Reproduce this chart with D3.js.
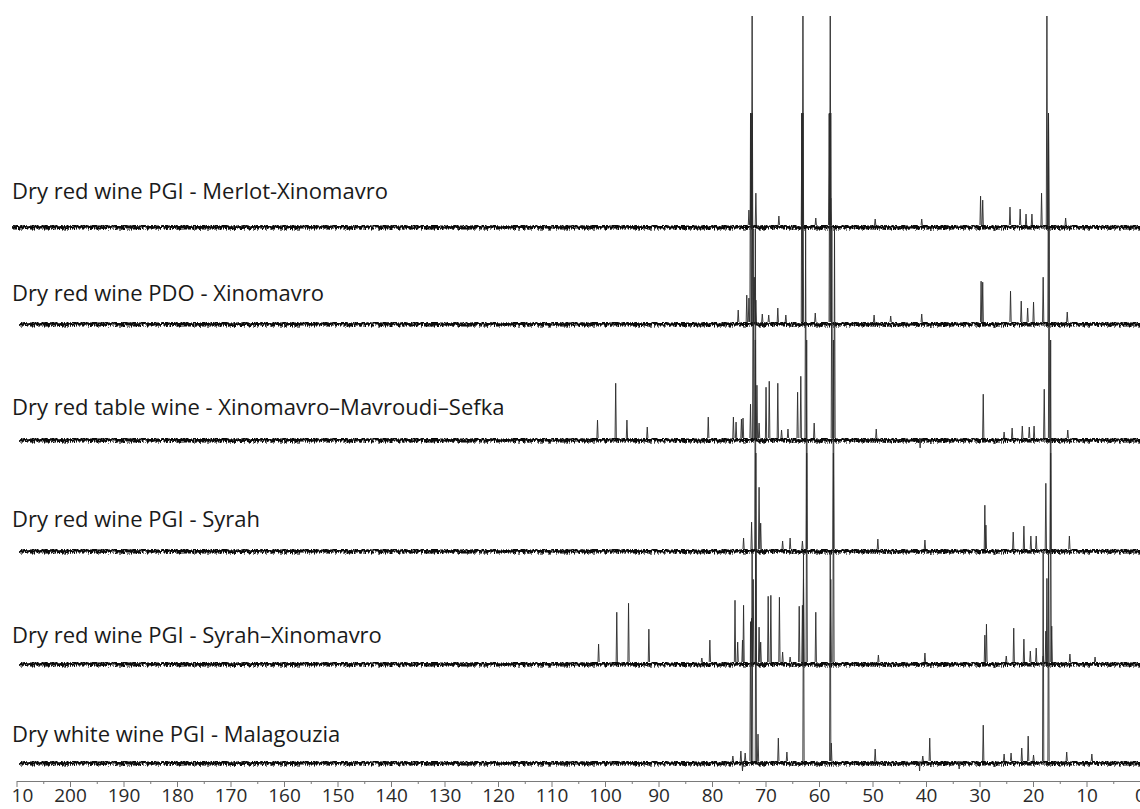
<!DOCTYPE html>
<html lang="en">
<head>
<meta charset="UTF-8">
<title>13C NMR spectra of wines</title>
<script src="https://d3js.org/d3.v7.min.js"></script>
<style>
  body { margin: 0; background: #fff; }
  svg { display: block; }
</style>
</head>
<body>
<script>
// Etykiety widm (od gory)
var labels = [
    "Dry red wine PGI - Merlot-Xinomavro",
    "Dry red wine PDO - Xinomavro",
    "Dry red table wine - Xinomavro\u2013Mavroudi\u2013Sefka",
    "Dry red wine PGI - Syrah",
    "Dry red wine PGI - Syrah\u2013Xinomavro",
    "Dry white wine PGI - Malagouzia"
];

// Piki: [ppm, intensywnosc]; 210 = pik obciety u gory
var merlotXino = [[73.1, 15], [72.7, 112], [72.5, 210], [71.8, 32], [67.5, 9], [63.2, 112], [63.0, 210], [60.6, 7],
    [58.1, 112], [57.9, 210], [57.8, 27], [49.5, 6], [40.8, 6], [29.8, 29], [29.4, 25], [24.3, 18], [22.4, 16],
    [21.3, 11], [20.2, 11], [18.4, 32], [17.4, 210], [17.1, 112], [13.9, 7]];
var pdoXino = [[75.1, 12], [73.5, 27], [73.1, 24], [72.8, 210], [72.5, 210], [72.1, 45], [71.8, 22], [70.6, 8],
    [69.4, 7], [67.7, 14], [66.2, 7], [63.2, 210], [63.0, 210], [60.7, 9], [58.0, 210], [57.8, 210], [49.7, 7],
    [46.6, 6], [40.8, 8], [29.7, 41], [29.4, 40], [24.2, 31], [22.2, 21], [21.0, 14], [19.9, 20], [18.1, 45],
    [17.1, 210], [13.6, 10]];
var tableWine = [[101.4, 18], [98.0, 55], [95.9, 18], [92.1, 11], [80.7, 21], [76.0, 21], [75.5, 16], [74.5, 19],
    [74.2, 20], [72.8, 34], [72.3, 210], [71.9, 210], [71.6, 53], [71.2, 15], [69.9, 51], [69.3, 57], [67.7, 55],
    [67.0, 8], [65.8, 9], [64.0, 46], [63.4, 62], [62.5, 210], [60.9, 15], [57.6, 210], [57.1, 210], [49.3, 9],
    [41.1, -10], [29.3, 44], [25.4, 6], [23.9, 10], [22.0, 12], [20.7, 11], [19.8, 12], [17.9, 49], [17.0, 210],
    [13.5, 8]];
var syrah = [[74.1, 11], [72.6, 27], [71.9, 210], [71.2, 62], [70.9, 26], [66.8, 8], [65.4, 11], [63.1, 8],
    [62.3, 210], [57.3, 210], [49.0, 10], [40.2, 9], [29.0, 44], [28.8, 24], [23.7, 17], [21.7, 23], [20.4, 13],
    [19.4, 13], [17.6, 66], [16.7, 210], [13.2, 13]];
var syrahXino = [[101.2, 18], [97.8, 50], [95.6, 59], [91.8, 33], [81.9, 4], [80.4, 22], [75.7, 62], [75.2, 20],
    [74.3, 22], [74.1, 57], [72.6, 44], [72.3, 83], [71.8, 210], [71.2, 35], [70.9, 20], [69.5, 66], [69.0, 67],
    [67.4, 65], [66.8, 10], [65.4, 5], [63.7, 56], [63.1, 57], [62.9, 83], [62.3, 210], [60.6, 50], [57.8, 83],
    [57.3, 210], [48.9, 7], [40.2, 9], [29.0, 27], [28.7, 38], [25.0, 6], [23.6, 34], [21.7, 23], [20.5, 11],
    [19.4, 14], [18.1, 6], [17.6, 31], [17.4, 84], [16.7, 210], [16.5, 36], [13.1, 8], [8.4, 5]];
var malagouzia = [[76.1, 5], [74.6, 10], [74.3, -10], [73.8, 8], [72.8, 140], [72.5, 210], [71.8, 210], [71.4, 27],
    [67.6, 23], [66.0, 9], [62.9, 210], [57.9, 210], [57.7, 18], [49.5, 12], [41.2, -10], [40.6, 5], [39.3, 23],
    [33.8, -8], [29.3, 36], [25.4, 7], [24.1, 8], [22.1, 13], [20.9, 25], [19.9, 6], [18.1, 210], [17.1, 210],
    [13.7, 9], [9.0, 7]];

var spectra = [merlotXino, pdoXino, tableWine, syrah, syrahXino, malagouzia];

// Os ppm
var majorTicks = d3.range(0, 211, 10);
var minorTicks = d3.range(5, 210, 10);

// Ustawienia rysunku
var width = 1140, height = 809;
var baselines = [225, 322, 438, 549, 662, 761];
var labelYs = [199, 301, 415, 527, 643, 742];
var startPpm = [211.2, 209.7, 209.7, 209.7, 209.7, 209.7];

var x = d3.scaleLinear().domain([210, 0]).range([16.5, 1140]);
var y = d3.scaleLinear().domain([0, 210]).range([0, -209]);

var svg = d3.select("body").append("svg")
    .attr("width", width)
    .attr("height", height);

// Szum linii bazowej (tylko efekt wizualny, dwie warstwy)
var defs = svg.append("defs");
[4, 11].forEach(function (seed, k) {
    var filt = defs.append("filter")
        .attr("id", "noise" + k)
        .attr("filterUnits", "userSpaceOnUse")
        .attr("x", 0).attr("y", 0).attr("width", width).attr("height", height);
    filt.append("feTurbulence")
        .attr("type", "turbulence")
        .attr("baseFrequency", "1.1 0.09")
        .attr("numOctaves", 2)
        .attr("seed", seed)
        .attr("result", "t");
    filt.append("feDisplacementMap")
        .attr("in", "SourceGraphic")
        .attr("in2", "t")
        .attr("scale", 8)
        .attr("xChannelSelector", "A")
        .attr("yChannelSelector", "G");
});

defs.append("clipPath").attr("id", "axisClip")
    .append("rect").attr("x", 11).attr("y", 0).attr("width", width).attr("height", height);

var line = d3.line().x(function (d) { return x(d[0]); }).y(function (d) { return y(d[1]); });

spectra.forEach(function (peaks, i) {
    var g = svg.append("g").attr("transform", "translate(0," + baselines[i] + ")");

    [0, 1].forEach(function (k) {
        g.append("path")
            .attr("d", line([[startPpm[i], 0], [0, 0]]))
            .attr("fill", "none")
            .attr("stroke", "#0a0a0a")
            .attr("stroke-width", 3)
            .attr("filter", "url(#noise" + k + ")");
    });

    g.selectAll("path.peak")
        .data(peaks)
        .enter().append("path")
        .attr("class", "peak")
        .attr("d", function (d) { return line([[d[0] + 0.12, 0], [d[0], d[1]], [d[0] - 0.12, 0]]); })
        .attr("fill", "none")
        .attr("stroke", "#2a2a2a")
        .attr("stroke-width", 0.9);

    svg.append("text")
        .attr("x", 12)
        .attr("y", labelYs[i])
        .style("font-family", "'Open Sans', sans-serif")
        .style("font-size", "22px")
        .style("fill", "#1a1a1a")
        .text(labels[i]);
});

// Os X
var axisG = svg.append("g").attr("clip-path", "url(#axisClip)");

var major = axisG.append("g")
    .attr("transform", "translate(0,781)")
    .call(d3.axisBottom(x).tickValues(majorTicks).tickSize(6).tickSizeOuter(0).tickPadding(2).tickFormat(d3.format("d")));
major.select(".domain").attr("stroke", "#7a7a7a");
major.selectAll(".tick line").attr("stroke", "#7a7a7a");
major.selectAll(".tick text")
    .style("font-family", "'Open Sans', sans-serif")
    .style("font-size", "19px")
    .style("fill", "#2a2a2a");

var minor = axisG.append("g")
    .attr("transform", "translate(0,781)")
    .call(d3.axisBottom(x).tickValues(minorTicks).tickSize(3).tickSizeOuter(0).tickFormat(""));
minor.select(".domain").remove();
minor.selectAll(".tick line").attr("stroke", "#7a7a7a");
</script>
</body>
</html>
